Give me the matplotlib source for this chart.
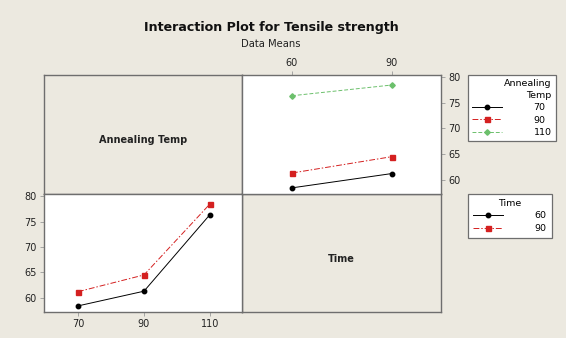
import matplotlib
matplotlib.use("Agg")
import matplotlib.pyplot as plt
from matplotlib.lines import Line2D

# ---- data ----
anneal_temps = [70, 90, 110]
times = [60, 90]
# means[time][anneal index]
means_time60 = [58.4, 61.3, 76.4]
means_time90 = [61.2, 64.5, 78.5]
anneal_labels = ["70", "90", "110"]
time_labels = ["60", "90"]
y_ticks = [60, 65, 70, 75, 80]

BG = "#ECE9E0"
SPINE = "#6e6e6e"
cols = ["#000000", "#d42020", "#6cc06c"]
markers = ["o", "s", "D"]
dashes = [None, (6, 2, 1.5, 2), (4, 2)]
msizes = [3.2, 3.6, 2.8]

W, H = 566, 338
fig = plt.figure(figsize=(W / 100, H / 100), dpi=100, facecolor=BG)
plt.rcParams['font.family'] = ['DejaVu Sans']


def ax_at(x0, y0, x1, y1, fc):
    a = fig.add_axes([x0 / W, (H - y1) / H, (x1 - x0) / W, (y1 - y0) / H], facecolor=fc)
    for s in a.spines.values():
        s.set_color(SPINE)
        s.set_linewidth(1.0)
    return a

xl, xm, xr = 44, 242, 441
yt, ym, yb = 75, 194, 312
ylim = (57.2, 80.45)

# top-left (label panel)
ax_tl = ax_at(xl, yt, xm, ym, BG)
ax_tl.set_xticks([]); ax_tl.set_yticks([])
ax_tl.text(0.5, 0.45, "Annealing Temp", ha="center", va="center", fontsize=7,
           fontweight="bold", transform=ax_tl.transAxes, color="#222222")

# bottom-right (label panel)
ax_br = ax_at(xm, ym, xr, yb, BG)
ax_br.set_xticks([]); ax_br.set_yticks([])
ax_br.text(0.5, 0.45, "Time", ha="center", va="center", fontsize=7,
           fontweight="bold", transform=ax_br.transAxes, color="#222222")

# bottom-left: x = annealing temp, lines = time
ax_bl = ax_at(xl, ym, xm, yb, "white")
for i, (t, vals) in enumerate(zip(time_labels, [means_time60, means_time90])):
    ln, = ax_bl.plot(anneal_temps, vals, color=cols[i], marker=markers[i], ms=msizes[i],
                     lw=0.7, label=t)
    if dashes[i]:
        ln.set_dashes(dashes[i])
ax_bl.set_xlim(59.7, 119.7)
ax_bl.set_ylim(*ylim)
ax_bl.set_xticks(anneal_temps)
ax_bl.set_yticks(y_ticks)
ax_bl.tick_params(length=3, width=0.6, color="#999999", labelsize=7, pad=2, labelcolor="#222222")

# top-right: x = time, lines = annealing temp
ax_tr = ax_at(xm, yt, xr, ym, "white")
series_by_anneal = [[means_time60[k], means_time90[k]] for k in range(len(anneal_temps))]
for i, vals in enumerate(series_by_anneal):
    ln, = ax_tr.plot(times, vals, color=cols[i], marker=markers[i], ms=msizes[i],
                     lw=0.7, label=anneal_labels[i])
    if dashes[i]:
        ln.set_dashes(dashes[i])
ax_tr.set_xlim(45, 104.7)
ax_tr.set_ylim(*ylim)
ax_tr.set_xticks(times)
ax_tr.set_yticks(y_ticks)
ax_tr.xaxis.tick_top()
ax_tr.yaxis.tick_right()
ax_tr.tick_params(length=3, width=0.6, color="#999999", labelsize=7, pad=2, labelcolor="#222222")

# titles
fig.text(271 / W, 1 - 28 / H, "Interaction Plot for Tensile strength", ha="center", va="center",
         fontsize=9.1, fontweight="bold", color="#111111")
fig.text(271 / W, 1 - 44 / H, "Data Means", ha="center", va="center", fontsize=7.2, color="#222222")

# legends
def make_handles(n, labels):
    hs = []
    for i in range(n):
        h = Line2D([], [], color=cols[i], marker=markers[i], ms=msizes[i], lw=0.7, label=labels[i])
        if dashes[i]:
            h.set_dashes(dashes[i])
        hs.append(h)
    return hs

leg1 = fig.legend(handles=make_handles(3, anneal_labels), title="Annealing\nTemp",
                  loc="upper left", bbox_to_anchor=(468 / W, 1 - 75 / H),
                  fontsize=6.8, title_fontsize=6.8, frameon=True, fancybox=False,
                  edgecolor=SPINE, framealpha=1, facecolor="white", handlelength=3.2,
                  handletextpad=3.3, borderpad=0.45, labelspacing=0.35, alignment="right",
                  borderaxespad=0)
leg1.get_frame().set_linewidth(0.9)
leg1.get_title().set_multialignment("right")
leg1.get_title().set_linespacing(1.4)
leg2 = fig.legend(handles=make_handles(2, time_labels), title="Time",
                  loc="upper left", bbox_to_anchor=(468 / W, 1 - 194 / H),
                  fontsize=6.8, title_fontsize=6.8, frameon=True, fancybox=False,
                  edgecolor=SPINE, framealpha=1, facecolor="white", handlelength=3.2,
                  handletextpad=3.3, borderpad=0.55, labelspacing=0.35, alignment="center",
                  borderaxespad=0)
leg2.get_frame().set_linewidth(0.9)

fig.savefig("out.png", dpi=100, facecolor=BG)
